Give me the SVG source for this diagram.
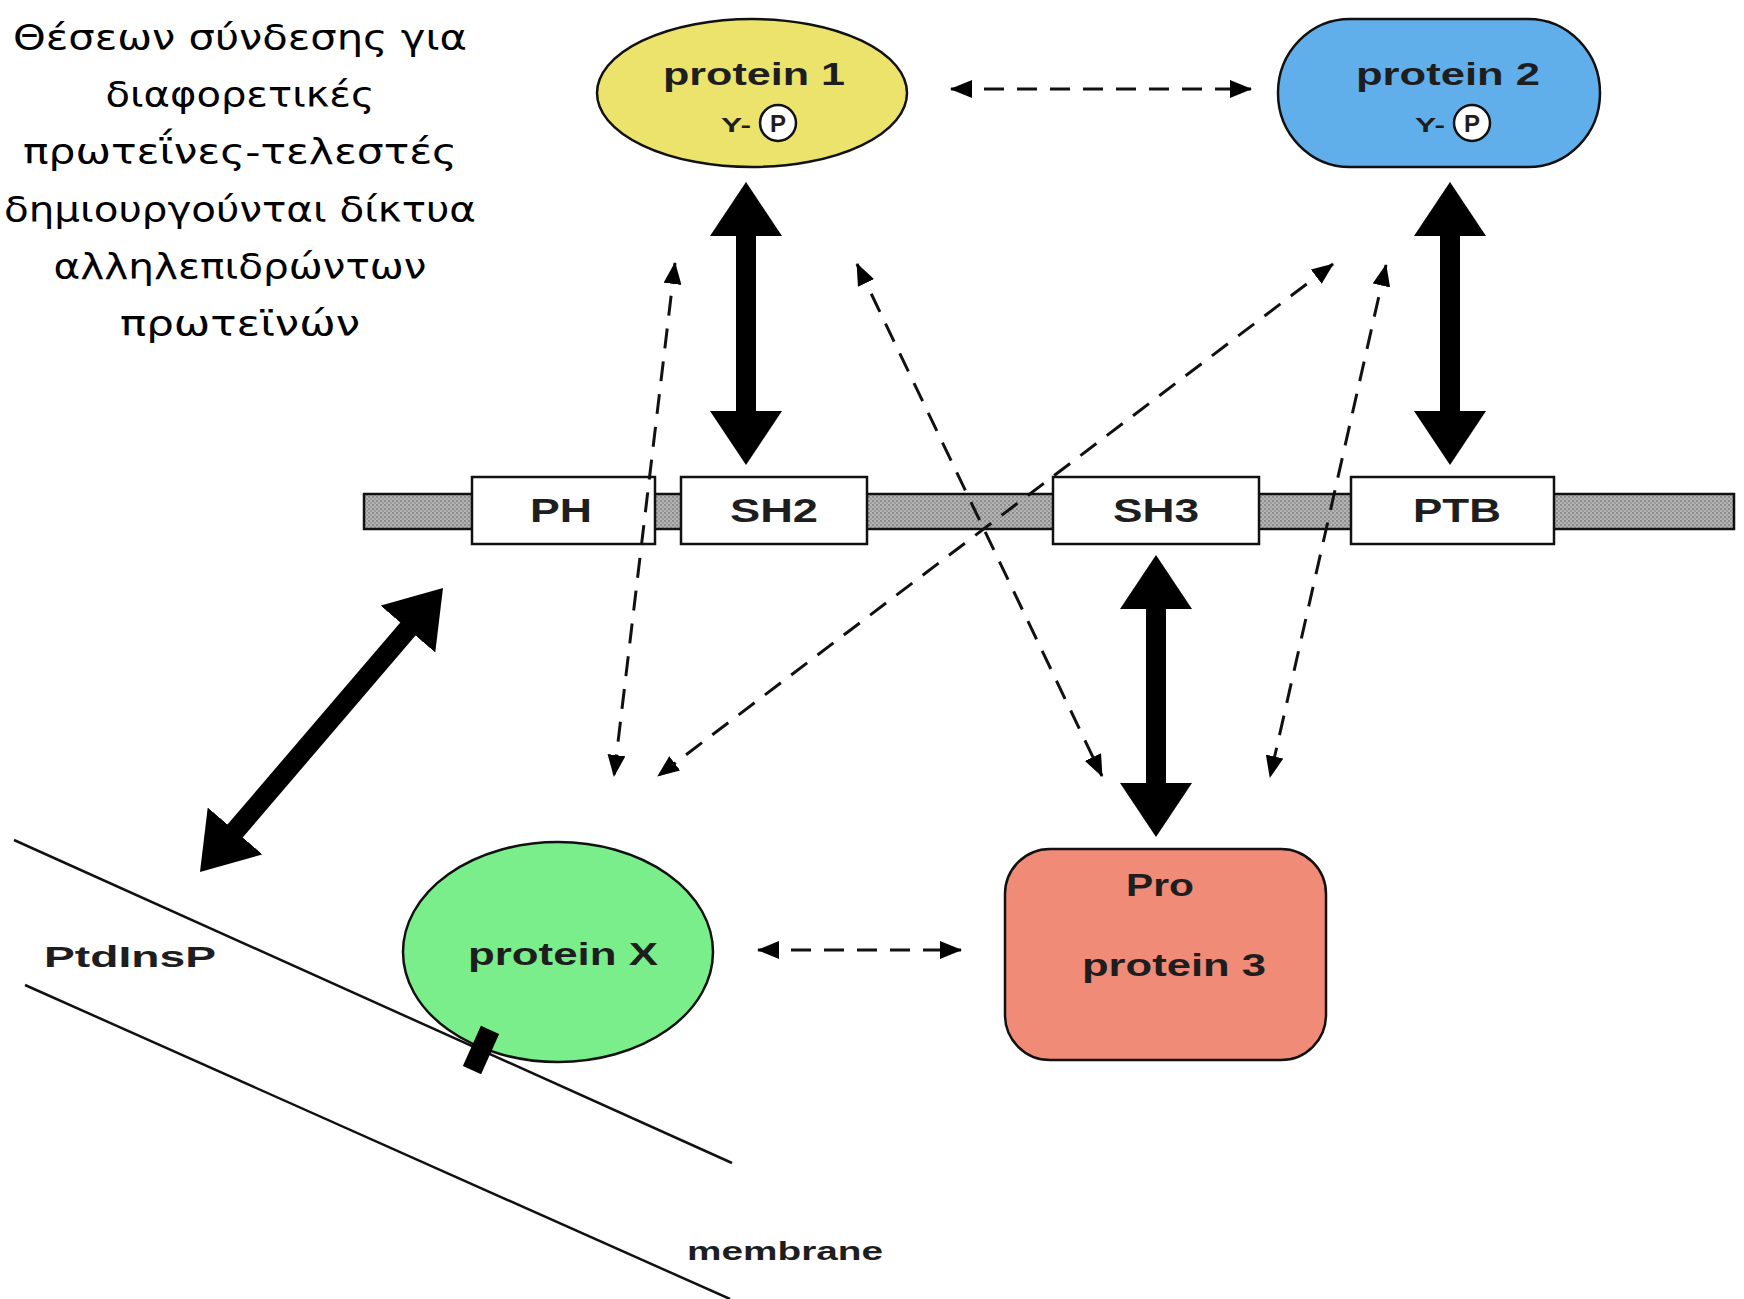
<svg xmlns="http://www.w3.org/2000/svg" width="1744" height="1299" viewBox="0 0 1744 1299">
<style>
.lbl{font-family:"Liberation Sans",Arial,sans-serif;fill:#1e1e1e;text-anchor:middle;font-weight:bold;}
.greek{font-family:"DejaVu Sans",sans-serif;font-size:36px;fill:#000;text-anchor:middle;}
.ol{stroke:#111;stroke-width:2.5;}
.dash{stroke:#111;stroke-width:3;stroke-dasharray:20 13;fill:none;marker-start:url(#sh);marker-end:url(#sh);}
.heavy{stroke:#000;stroke-width:20;fill:none;marker-start:url(#hh);marker-end:url(#hh);}
.mem{stroke:#111;stroke-width:2.5;}
.box{fill:#fff;stroke:#111;stroke-width:2.5;}
</style>
<defs>
<pattern id="stip" width="4" height="4" patternUnits="userSpaceOnUse">
<rect width="4" height="4" fill="#b4b4b4"/>
<rect width="2" height="2" fill="#8c8c8c"/>
<rect x="2" y="2" width="2" height="2" fill="#9c9c9c"/>
</pattern>
<marker id="sh" viewBox="0 -9 22 18" refX="21" refY="0" markerWidth="22" markerHeight="18" markerUnits="userSpaceOnUse" orient="auto-start-reverse">
<path d="M0,-9 L22,0 L0,9 z" fill="#000"/>
</marker>
<marker id="hh" viewBox="0 -36 54 72" refX="2" refY="0" markerWidth="54" markerHeight="72" markerUnits="userSpaceOnUse" orient="auto-start-reverse">
<path d="M0,-36 L54,0 L0,36 z" fill="#000"/>
</marker>
</defs>
<rect width="1744" height="1299" fill="#fff"/>

<g id="caption">
<text class="greek" x="240" y="50" textLength="454" lengthAdjust="spacingAndGlyphs">Θέσεων σύνδεσης για</text>
<text class="greek" x="240" y="107" textLength="269" lengthAdjust="spacingAndGlyphs">διαφορετικές</text>
<text class="greek" x="240" y="164" textLength="434" lengthAdjust="spacingAndGlyphs">πρωτεΐνες-τελεστές</text>
<text class="greek" x="240" y="222" textLength="472" lengthAdjust="spacingAndGlyphs">δημιουργούνται δίκτυα</text>
<text class="greek" x="240" y="279" textLength="373" lengthAdjust="spacingAndGlyphs">αλληλεπιδρώντων</text>
<text class="greek" x="240" y="336" textLength="240" lengthAdjust="spacingAndGlyphs">πρωτεϊνών</text>
</g>

<g id="membrane">
<line class="mem" x1="14" y1="840" x2="732" y2="1163"/>
<line class="mem" x1="25" y1="985" x2="730" y2="1299"/>
<text class="lbl" x="130" y="967" font-size="30" textLength="172" lengthAdjust="spacingAndGlyphs">PtdInsP</text>
<text class="lbl" x="785" y="1260" font-size="26" textLength="196" lengthAdjust="spacingAndGlyphs">membrane</text>
</g>

<g id="domain-bar">
<rect x="364" y="494" width="1370" height="35" fill="url(#stip)" class="ol"/>
</g>
<g id="PH">
<rect class="box" x="472" y="477" width="183" height="67"/>
<text class="lbl" x="561" y="522" font-size="33" textLength="62" lengthAdjust="spacingAndGlyphs">PH</text>
</g>
<g id="SH2">
<rect class="box" x="681" y="477" width="186" height="67"/>
<text class="lbl" x="774" y="522" font-size="33" textLength="88" lengthAdjust="spacingAndGlyphs">SH2</text>
</g>
<g id="SH3">
<rect class="box" x="1053" y="477" width="206" height="67"/>
<text class="lbl" x="1156" y="522" font-size="33" textLength="86" lengthAdjust="spacingAndGlyphs">SH3</text>
</g>
<g id="PTB">
<rect class="box" x="1351" y="477" width="203" height="67"/>
<text class="lbl" x="1457" y="522" font-size="33" textLength="88" lengthAdjust="spacingAndGlyphs">PTB</text>
</g>

<g id="protein1">
<ellipse cx="752" cy="93" rx="155" ry="74" fill="#ebe36c" class="ol"/>
<text class="lbl" x="754" y="85" font-size="31" textLength="182" lengthAdjust="spacingAndGlyphs">protein 1</text>
<text class="lbl" x="736" y="132" font-size="21" font-weight="normal" textLength="30" lengthAdjust="spacingAndGlyphs">Y-</text>
<circle cx="778" cy="123" r="18" fill="#fff" class="ol"/>
<text class="lbl" x="778" y="132" font-size="24">P</text>
</g>

<g id="protein2">
<rect x="1278" y="19" width="322" height="148" rx="72" ry="74" fill="#60aeea" class="ol"/>
<text class="lbl" x="1448" y="85" font-size="31" textLength="184" lengthAdjust="spacingAndGlyphs">protein 2</text>
<text class="lbl" x="1430" y="132" font-size="21" font-weight="normal" textLength="30" lengthAdjust="spacingAndGlyphs">Y-</text>
<circle cx="1472" cy="123" r="18" fill="#fff" class="ol"/>
<text class="lbl" x="1472" y="132" font-size="24">P</text>
</g>

<g id="proteinX">
<ellipse cx="558" cy="952" rx="155" ry="110" fill="#7aee8a" class="ol"/>
<text class="lbl" x="563" y="965" font-size="31" textLength="190" lengthAdjust="spacingAndGlyphs">protein X</text>
<rect x="471" y="1028" width="20" height="44" fill="#000" transform="rotate(24.2 481 1050)"/>
</g>

<g id="protein3">
<rect x="1005" y="849" width="321" height="211" rx="45" ry="45" fill="#ef8b77" class="ol"/>
<text class="lbl" x="1160" y="896" font-size="31" textLength="68" lengthAdjust="spacingAndGlyphs">Pro</text>
<text class="lbl" x="1174" y="976" font-size="31" textLength="184" lengthAdjust="spacingAndGlyphs">protein 3</text>
</g>

<g id="connectors">
<line class="heavy" x1="746" y1="234" x2="746" y2="413"/>
<line class="heavy" x1="1450" y1="234" x2="1450" y2="413"/>
<line class="heavy" x1="1156" y1="607" x2="1156" y2="785"/>
<line class="heavy" x1="233.8" y1="832.5" x2="409.2" y2="627.5"/>
<line class="dash" x1="951" y1="89" x2="1251" y2="89"/>
<line class="dash" x1="675" y1="263" x2="614" y2="776"/>
<line class="dash" x1="857" y1="264" x2="1102" y2="776"/>
<line class="dash" x1="1333" y1="264" x2="658" y2="776"/>
<line class="dash" x1="1386" y1="265" x2="1270" y2="777"/>
<line class="dash" x1="758" y1="950" x2="961" y2="950"/>
</g>
</svg>
